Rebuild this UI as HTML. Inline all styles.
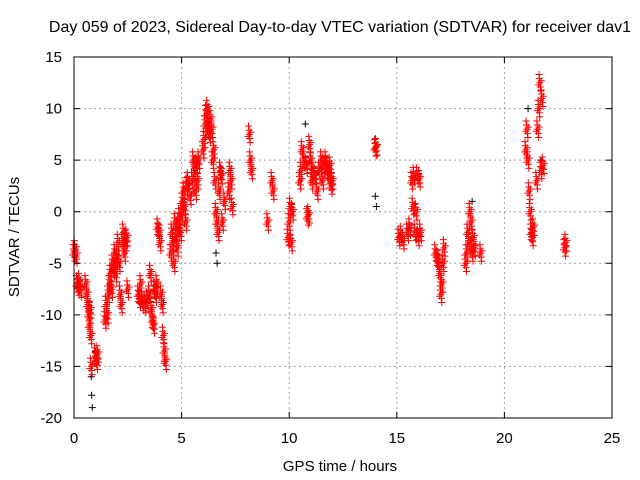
<!DOCTYPE html>
<html><head><meta charset="utf-8"><style>
body{margin:0;background:#fff;}
svg{display:block;font-family:"Liberation Sans",sans-serif;}
</style></head><body>
<svg id="chart" width="640" height="480">
<text x="340" y="32" font-size="16" text-anchor="middle">Day 059 of 2023, Sidereal Day-to-day VTEC variation (SDTVAR) for receiver dav1</text>
<g id="grid"></g>
<g id="marks"></g>
<rect x="74" y="57" width="538" height="361" fill="none" stroke="#000" stroke-width="1"/>
<g id="axes"></g>
<text x="340" y="471" font-size="15" text-anchor="middle">GPS time / hours</text>
<text transform="translate(19,237) rotate(-90)" font-size="15" text-anchor="middle">SDTVAR / TECUs</text>
</svg>
<script>
const xTicks=[0,5,10,15,20,25];
const yTicks=[15,10,5,0,-5,-10,-15,-20];
const redTimes=[0,0.05,0.1,0.15,0.2,0.25,0.3,0.55,0.6,0.65,0.7,0.72,0.75,0.78,0.8,1.0,1.05,1.1,1.45,1.5,1.55,1.6,1.65,1.7,1.75,1.8,1.85,1.9,1.95,2.0,2.05,2.1,2.15,2.2,2.25,2.3,2.35,2.4,2.45,2.5,3.0,3.05,3.1,3.2,3.3,3.4,3.5,3.55,3.6,3.65,3.7,3.75,3.8,3.85,3.9,3.95,4.0,4.05,4.1,4.15,4.2,4.25,4.5,4.55,4.6,4.65,4.7,4.75,4.8,4.85,4.9,4.95,5.0,5.05,5.1,5.15,5.2,5.25,5.3,5.4,5.5,5.55,5.6,5.65,5.7,5.75,5.8,6.0,6.05,6.1,6.15,6.2,6.25,6.3,6.35,6.4,6.45,6.5,6.55,6.6,6.65,6.7,6.75,6.8,6.85,6.9,7.0,7.2,7.25,7.3,7.35,8.15,8.2,8.25,9.0,9.2,9.25,9.95,10.0,10.05,10.1,10.15,10.5,10.55,10.6,10.7,10.8,10.85,10.9,10.95,11.0,11.05,11.1,11.2,11.3,11.4,11.5,11.55,11.6,11.7,11.8,11.85,11.9,11.95,12.0,14.0,14.05,15.1,15.2,15.3,15.5,15.6,15.7,15.75,15.8,15.85,15.9,15.95,16.0,16.05,16.1,16.8,16.9,16.95,17.0,17.05,17.1,17.15,17.2,18.2,18.25,18.3,18.35,18.4,18.45,18.5,18.55,18.6,18.9,21.0,21.05,21.1,21.15,21.2,21.25,21.3,21.35,21.5,21.55,21.6,21.65,21.7,21.75,21.8,22.8,22.85];
const redValues=[-4,-3.6,-4.2,-7,-7.3,-6.8,-7.5,-7,-8,-9,-10,-11,-9.5,-12,-15,-14,-14.5,-13.8,-10.5,-9,-10,-8,-7,-6,-7.5,-5,-5.5,-4,-6,-4.5,-3,-5,-8,-9,-3,-2,-4,-3,-2.5,-7.5,-8,-8.5,-7,-8.8,-9,-8.5,-8,-6,-9.5,-10.5,-11,-7.5,-8,-7,-1.5,-2,-3,-8,-9,-12,-13.5,-14.5,-4,-2,-3,-5,-1,-2.5,-3.5,-1.5,-0.5,-2,0,1,2,0.5,-1,2.5,3,1.5,3,5,4,2,4.5,3,5,6,7,8.5,9.5,10,8,7.5,9,8,5,6,3,0,-1,-2,2,4,3.5,-1,1,2,4,3,0.5,7.5,5,4,-1,3,2,-2.5,-1,0.5,-3,0,3,4,6,5,4.5,-0.5,-0.3,6.5,5,3,4,3.5,2,4,5,3,4.5,5,4,3.5,4.5,2.5,3,6.2,6.3,-2.5,-2.2,-2.8,-2,-1.5,3,0.5,3.5,-2,0,3.5,-2.5,3.2,-2,-4,-4.5,-5,-6,-8,-7,-5,-3.5,-5,-4,-2,-3,0,-1,-4,-2.5,-3.5,-4,6,8,5,2,0,-2,-2.5,-1.5,3,8,10,12.5,4,11,4.5,-3.5,-3];
const blackTimes=[0.8,0.82,0.85,1.0,4.2,6.6,6.65,10.75,14.0,14.05,18.5,21.1,21.7];
const blackValues=[-16,-17.8,-19,-13.5,-14.5,-4,-5,8.5,1.5,0.5,1,10,5];
const X=t=>74+t*(538/25), Y=v=>57+(15-v)*(361/35);
const ns="http://www.w3.org/2000/svg";
const grid=document.getElementById('grid'),axes=document.getElementById('axes'),marks=document.getElementById('marks');
xTicks.forEach(t=>{
 if(t>0&&t<25){const l=document.createElementNS(ns,'line');l.setAttribute('x1',X(t));l.setAttribute('x2',X(t));l.setAttribute('y1',57);l.setAttribute('y2',418);l.setAttribute('stroke','#a0a0a0');l.setAttribute('stroke-dasharray','2,3');
 
 
 grid.appendChild(l);}
 const k=document.createElementNS(ns,'path');k.setAttribute('d',`M${X(t)},418v-6M${X(t)},57v6`);k.setAttribute('stroke','#000');
 
 
 axes.appendChild(k);
 const tx=document.createElementNS(ns,'text');tx.setAttribute('x',X(t));tx.setAttribute('y',443);tx.setAttribute('font-size','15');tx.setAttribute('text-anchor','middle');tx.textContent=t;
 
 
 axes.appendChild(tx);
});
yTicks.forEach(v=>{
 if(v>-20&&v<15){const l=document.createElementNS(ns,'line');l.setAttribute('x1',74);l.setAttribute('x2',612);l.setAttribute('y1',Y(v));l.setAttribute('y2',Y(v));l.setAttribute('stroke','#a0a0a0');l.setAttribute('stroke-dasharray','2,3');
 
 
 grid.appendChild(l);}
 const k=document.createElementNS(ns,'path');k.setAttribute('d',`M74,${Y(v)}h6M612,${Y(v)}h-6`);k.setAttribute('stroke','#000');
 
 
 axes.appendChild(k);
 const tx=document.createElementNS(ns,'text');tx.setAttribute('x',62);tx.setAttribute('y',Y(v)+5);tx.setAttribute('font-size','15');tx.setAttribute('text-anchor','end');tx.textContent=v;
 
 
 axes.appendChild(tx);
});
function plus(t,v,c,name){
 const p=document.createElementNS(ns,'path');
 const x=X(t),y=Y(v);
 p.setAttribute('d',`M${x-3.5},${y}h7M${x},${y-3.5}v7`);p.setAttribute('stroke',c);p.setAttribute('stroke-width','1');
 
 
 marks.appendChild(p);
}
const jitter=[[0,0],[0.02,-0.4],[-0.02,0.4],[0.04,-0.8],[-0.04,0.8],[0.06,0.2],[-0.06,-0.2]];
blackTimes.forEach((t,i)=>plus(t,blackValues[i],'#000','black-point'));
redTimes.forEach((t,i)=>{jitter.forEach(j=>plus(t+j[0],redValues[i]+j[1],'#f00','red-point'));});
</script>
</body></html>
